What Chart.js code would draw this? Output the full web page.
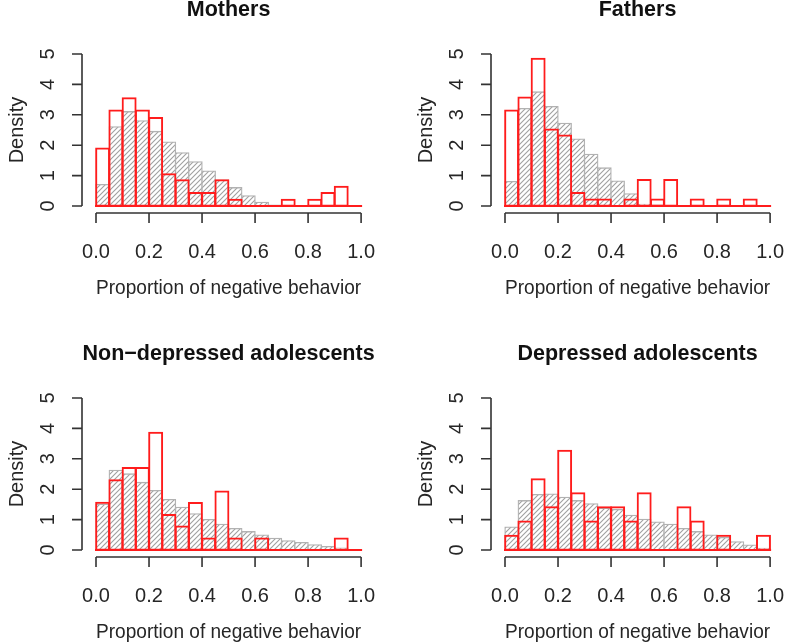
<!DOCTYPE html>
<html>
<head>
<meta charset="utf-8">
<title>Proportion of negative behavior</title>
<script src="https://cdn.jsdelivr.net/npm/chart.js@4.4.0/dist/chart.umd.min.js"></script>
<style>
  html, body { margin: 0; padding: 0; background: #fff; }
  body { width: 800px; height: 644px; overflow: hidden; position: relative; }
  .panel { position: absolute; width: 409px; height: 344px; }
</style>
</head>
<body>
<div class="panel" style="left:0px;top:0px"><canvas id="chart0" width="409" height="344"></canvas></div>
<div class="panel" style="left:409px;top:0px"><canvas id="chart1" width="409" height="344"></canvas></div>
<div class="panel" style="left:0px;top:344px"><canvas id="chart2" width="409" height="344"></canvas></div>
<div class="panel" style="left:409px;top:344px"><canvas id="chart3" width="409" height="344"></canvas></div>
<script>
// Histogram bins (left edges), width 0.05
const binStarts = [0.00, 0.05, 0.10, 0.15, 0.20, 0.25, 0.30, 0.35, 0.40, 0.45,
                   0.50, 0.55, 0.60, 0.65, 0.70, 0.75, 0.80, 0.85, 0.90, 0.95];
const binWidth = 0.05;
const xTicks = [0.0, 0.2, 0.4, 0.6, 0.8, 1.0];
const yTicks = [0, 1, 2, 3, 4, 5];

const panelTitles = ['Mothers', 'Fathers', 'Non\u2212depressed adolescents', 'Depressed adolescents'];
const xTitle = 'Proportion of negative behavior';
const yTitle = 'Density';

// gray hatched histograms
const mothersGray    = [0.70, 2.60, 3.10, 2.80, 2.45, 2.10, 1.75, 1.45, 1.15, 0.85, 0.60, 0.33, 0.12, 0.03, 0, 0, 0, 0, 0, 0];
const fathersGray    = [0.80, 3.20, 3.75, 3.27, 2.72, 2.20, 1.70, 1.25, 0.82, 0.40, 0.05, 0.03, 0, 0, 0, 0, 0, 0, 0, 0];
const nonDepGray     = [1.50, 2.62, 2.50, 2.22, 1.95, 1.66, 1.40, 1.19, 1.00, 0.84, 0.70, 0.60, 0.49, 0.38, 0.30, 0.24, 0.17, 0.11, 0.06, 0];
const depGray        = [0.75, 1.62, 1.82, 1.84, 1.73, 1.62, 1.52, 1.37, 1.33, 1.14, 1.01, 0.92, 0.84, 0.70, 0.60, 0.49, 0.41, 0.27, 0.16, 0.05];

// red outlined histograms
const mothersRed     = [1.90, 3.15, 3.55, 3.15, 2.90, 1.05, 0.85, 0.43, 0.43, 0.85, 0.21, 0, 0, 0, 0.21, 0, 0.21, 0.43, 0.64, 0];
const fathersRed     = [3.15, 3.57, 4.85, 2.52, 2.32, 0.43, 0.22, 0.22, 0, 0.22, 0.86, 0.22, 0.86, 0, 0.22, 0, 0.22, 0, 0.22, 0];
const nonDepRed      = [1.56, 2.30, 2.70, 2.70, 3.86, 1.16, 0.78, 1.55, 0.38, 1.93, 0.38, 0, 0.38, 0, 0, 0, 0, 0, 0.38, 0];
const depRed         = [0.47, 0.94, 2.33, 1.41, 3.27, 1.87, 0.94, 1.41, 1.41, 0.94, 1.87, 0, 0, 1.41, 0.94, 0, 0.47, 0, 0, 0.47];

const graySeries = [mothersGray, fathersGray, nonDepGray, depGray];
const redSeries = [mothersRed, fathersRed, nonDepRed, depRed];

const RED = 'rgb(255, 28, 28)';
const GRAY_BORDER = '#b2b2b2';
const AXIS = '#333333';
const TEXT = '#262626';
const FONT = '"Liberation Sans", Arial, Helvetica, sans-serif';

// diagonal hatch fill, like R's density lines
function makeHatch() {
    const size = 5;
    const c = document.createElement('canvas');
    c.width = size;
    c.height = size;
    const g = c.getContext('2d');
    g.fillStyle = '#ffffff';
    g.fillRect(0, 0, size, size);
    g.strokeStyle = '#a0a0a0';
    g.lineWidth = 1.1;
    g.beginPath();
    g.moveTo(0, size); g.lineTo(size, 0);
    g.moveTo(-1, 1); g.lineTo(1, -1);
    g.moveTo(size - 1, size + 1); g.lineTo(size + 1, size - 1);
    g.stroke();
    return g.createPattern(c, 'repeat');
}

function toPoints(values) {
    return values.map((v, i) => ({ x: binStarts[i] + binWidth / 2, y: v }));
}

// R-style detached axes, panel title and the red zero line under the histogram
const rAxes = {
    id: 'rAxes',
    afterDatasetsDraw(chart, args, opts) {
        const { ctx, chartArea, scales: { x, y } } = chart;
        const x0 = x.getPixelForValue(xTicks[0]);
        const x1 = x.getPixelForValue(xTicks[xTicks.length - 1]);
        const y0 = y.getPixelForValue(yTicks[0]);
        const y1 = y.getPixelForValue(yTicks[yTicks.length - 1]);
        ctx.save();
        // zero line of the red histogram
        ctx.strokeStyle = RED;
        ctx.lineWidth = 2;
        ctx.beginPath();
        ctx.moveTo(x0 - 1, y0);
        ctx.lineTo(x1 + 1, y0);
        ctx.stroke();

        ctx.strokeStyle = AXIS;
        ctx.lineWidth = 1.6;
        // y axis
        const ax = chartArea.left - 14;
        ctx.beginPath();
        ctx.moveTo(ax, y0);
        ctx.lineTo(ax, y1);
        yTicks.forEach(v => {
            const p = y.getPixelForValue(v);
            ctx.moveTo(ax, p);
            ctx.lineTo(ax - 10, p);
        });
        ctx.stroke();
        // x axis
        const ay = chartArea.bottom + 7;
        ctx.beginPath();
        ctx.moveTo(x0, ay);
        ctx.lineTo(x1, ay);
        xTicks.forEach(v => {
            const p = x.getPixelForValue(v);
            ctx.moveTo(p, ay);
            ctx.lineTo(p, ay + 10);
        });
        ctx.stroke();

        // panel title, centred over the plot region
        ctx.fillStyle = '#111';
        ctx.font = 'bold 21.5px ' + FONT;
        ctx.textAlign = 'center';
        ctx.textBaseline = 'middle';
        ctx.fillText(opts.text, (chartArea.left + chartArea.right) / 2, 10);
        ctx.restore();
    }
};

function makeChart(idx, hatch) {
    const ctx = document.getElementById('chart' + idx).getContext('2d');
    return new Chart(ctx, {
        type: 'bar',
        data: {
            datasets: [{
                label: 'red',
                data: toPoints(redSeries[idx]),
                backgroundColor: 'rgba(0, 0, 0, 0)',
                borderColor: RED,
                borderWidth: 0.3,
                inflateAmount: 0.85,
                borderSkipped: false,
                grouped: false,
                barPercentage: 1,
                categoryPercentage: 1,
                clip: false,
                order: 1
            }, {
                label: 'gray',
                data: toPoints(graySeries[idx]),
                backgroundColor: hatch,
                borderColor: GRAY_BORDER,
                borderWidth: 1.3,
                inflateAmount: 0.65,
                borderSkipped: false,
                grouped: false,
                barPercentage: 1,
                categoryPercentage: 1,
                clip: false,
                order: 2
            }]
        },
        options: {
            responsive: false,
            animation: false,
            devicePixelRatio: 1,
            layout: {
                padding: { top: 52, right: 30, bottom: 0, left: 0 }
            },
            plugins: {
                legend: { display: false },
                tooltip: { enabled: false },
                title: { display: false },
                rAxes: { text: panelTitles[idx] }
            },
            scales: {
                x: {
                    type: 'linear',
                    min: 0,
                    max: 1,
                    offset: false,
                    afterBuildTicks: s => { s.ticks = xTicks.map(v => ({ value: v })); },
                    afterFit: s => { s.height = 138; },
                    grid: { display: false, drawTicks: false },
                    border: { display: false },
                    ticks: {
                        autoSkip: false,
                        minRotation: 0,
                        maxRotation: 0,
                        padding: 34,
                        color: TEXT,
                        font: { family: FONT, size: 20 },
                        callback: v => Number(v).toFixed(1)
                    },
                    title: {
                        display: true,
                        text: xTitle,
                        color: TEXT,
                        font: { family: FONT, size: 21 },
                        padding: { top: 0, bottom: 43 }
                    }
                },
                y: {
                    min: 0,
                    max: 5,
                    afterBuildTicks: s => { s.ticks = yTicks.map(v => ({ value: v })); },
                    afterFit: s => { s.width = 96; },
                    grid: { display: false, drawTicks: false },
                    border: { display: false },
                    ticks: {
                        minRotation: 90,
                        maxRotation: 90,
                        crossAlign: 'center',
                        padding: 42,
                        color: TEXT,
                        font: { family: FONT, size: 20 }
                    },
                    title: {
                        display: true,
                        text: yTitle,
                        color: TEXT,
                        font: { family: FONT, size: 20 },
                        padding: { top: 5, bottom: 0 }
                    }
                }
            }
        },
        plugins: [rAxes]
    });
}

const hatch = makeHatch();
for (let i = 0; i < 4; i++) {
    makeChart(i, hatch);
}
</script>
</body>
</html>
